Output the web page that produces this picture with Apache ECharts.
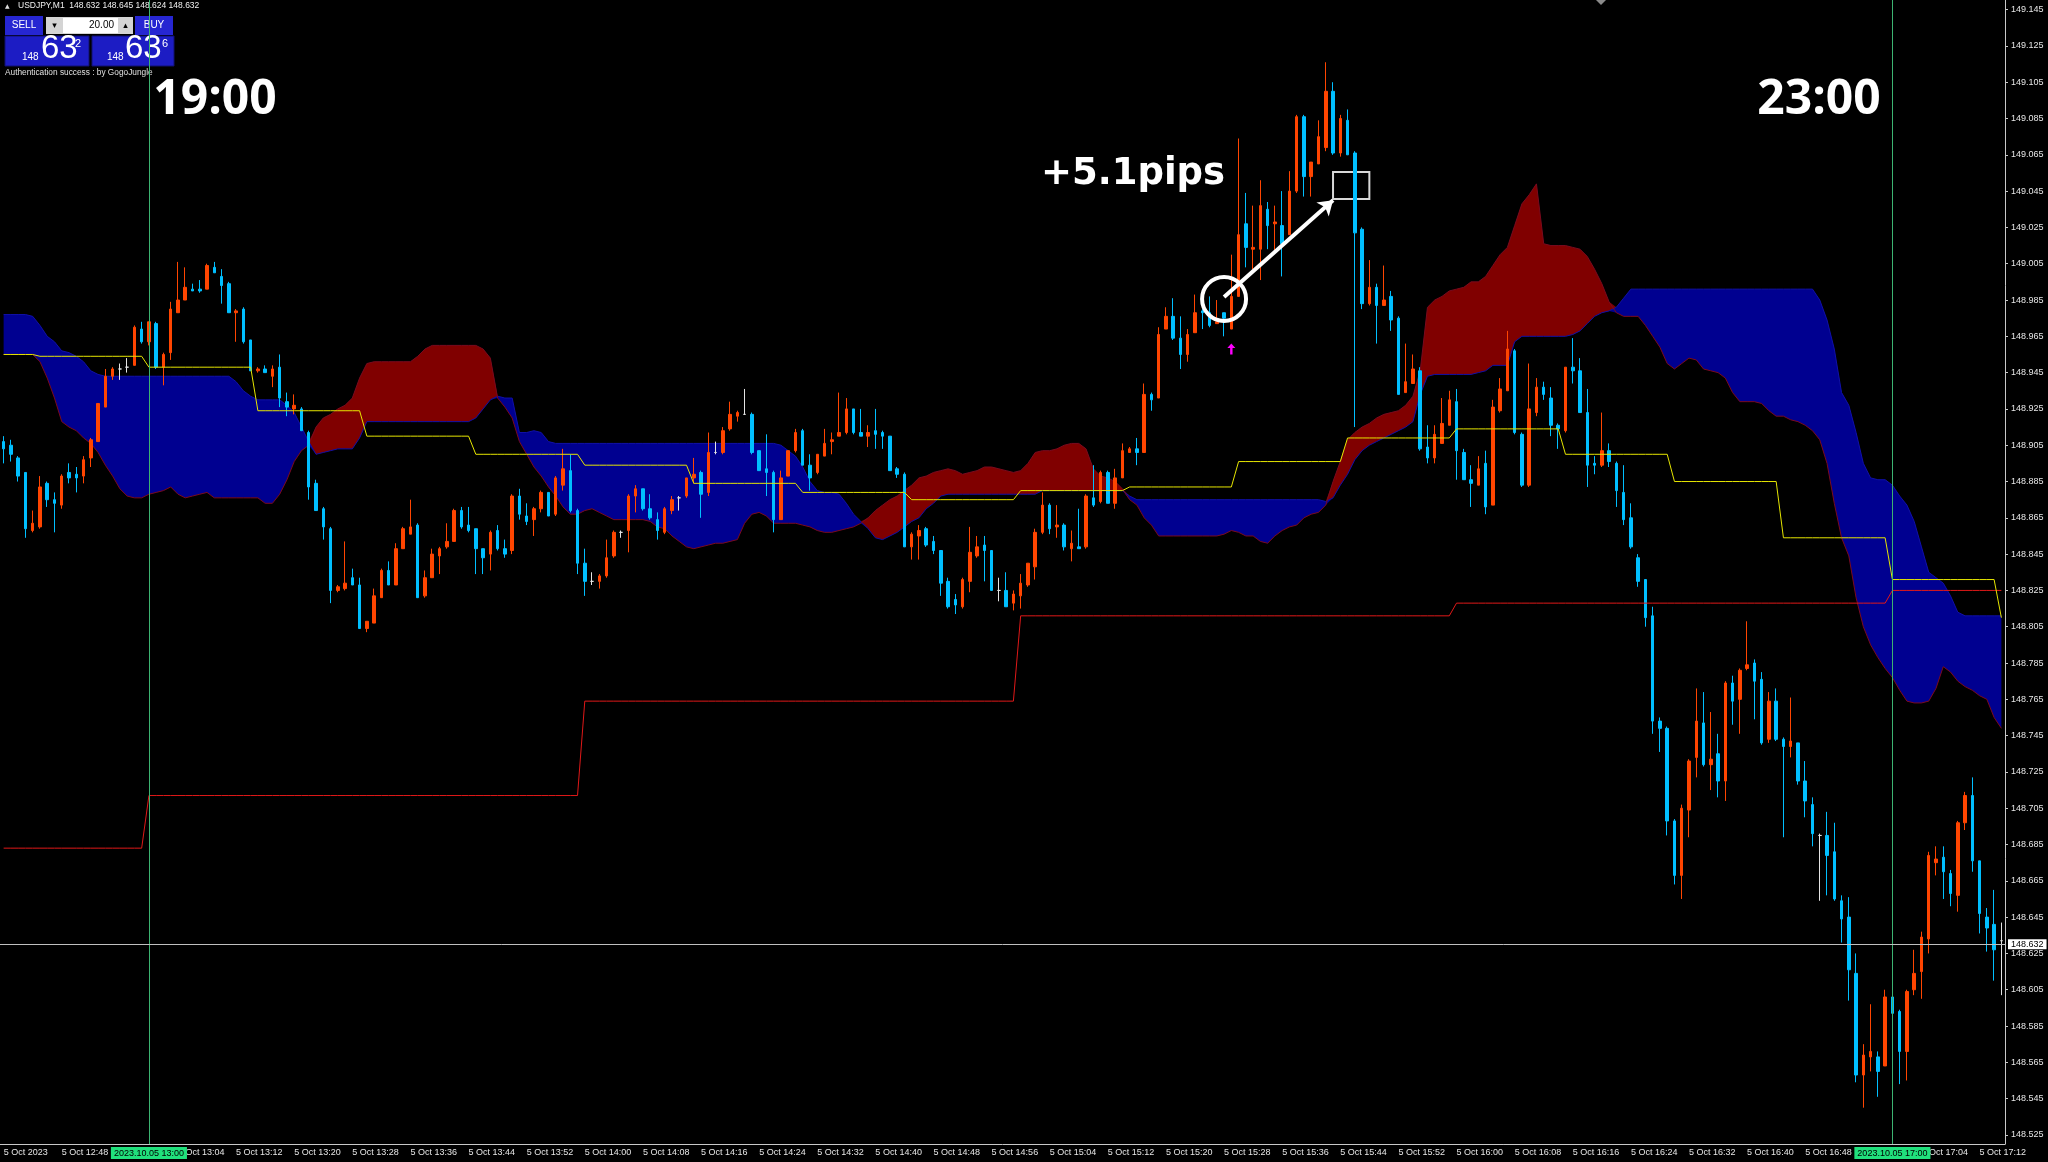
<!DOCTYPE html>
<html>
<head>
<meta charset="utf-8">
<script src="https://cdn.jsdelivr.net/npm/echarts@6/dist/echarts.min.js"></script>
<style>
  html, body { margin: 0; padding: 0; background: #000; }
  #chart { width: 2048px; height: 1162px; }
</style>
</head>
<body>
<div id="chart"></div>
<script>
// USDJPY M1, 5 Oct 2023, 12:40 .. 17:15 (server time)
const opens = [
  148.907,148.905,148.898,148.890,148.858,148.860,148.884,148.875,148.872,148.890,
  148.889,148.888,148.898,148.907,148.926,148.943,148.947,148.948,148.949,148.969,
  148.962,148.972,148.948,148.956,148.978,148.985,148.991,148.991,148.991,149.003,
  148.998,148.994,148.978,148.980,148.963,148.946,148.947,148.943,148.948,148.929,
  148.925,148.925,148.912,148.884,148.870,148.859,148.825,148.826,148.832,148.828,
  148.804,148.807,148.821,148.836,148.828,148.848,148.856,148.861,148.822,148.832,
  148.844,148.849,148.852,148.869,148.861,148.859,148.848,148.845,148.858,148.848,
  148.847,148.877,148.866,148.864,148.870,148.879,148.867,148.883,148.891,148.869,
  148.840,148.830,148.830,148.833,148.844,148.857,148.858,148.877,148.881,148.870,
  148.864,148.857,148.869,148.876,148.877,148.887,148.890,148.879,148.901,148.901,
  148.914,148.921,148.922,148.922,148.902,148.892,148.890,148.864,148.888,148.902,
  148.913,148.894,148.890,148.899,148.907,148.910,148.912,148.925,148.912,148.910,
  148.913,148.912,148.910,148.892,148.889,148.849,148.855,148.859,148.852,148.847,
  148.830,148.820,148.816,148.830,148.844,148.850,148.847,148.825,148.825,148.818,
  148.822,148.828,148.838,148.857,148.872,148.860,148.861,148.848,148.849,148.849,
  148.876,148.874,148.890,148.873,148.887,148.901,148.903,148.901,148.933,148.931,
  148.969,148.976,148.964,148.955,148.967,148.979,148.978,148.972,148.978,148.969,
  148.987,149.027,149.013,149.013,149.035,149.027,149.026,149.021,149.045,149.086,
  149.053,149.060,149.069,149.100,149.066,149.084,149.066,149.024,148.983,148.992,
  148.982,148.987,148.975,148.934,148.939,148.946,148.904,148.898,148.906,148.916,
  148.929,148.901,148.886,148.883,148.895,148.872,148.924,148.935,148.957,148.911,
  148.883,148.923,148.937,148.931,148.916,148.913,148.948,148.946,148.923,148.895,
  148.894,148.902,148.895,148.879,148.865,148.843,148.831,148.811,148.753,148.749,
  148.698,148.668,148.704,148.733,148.752,148.729,148.735,148.720,148.774,148.765,
  148.782,148.785,148.776,148.743,148.764,148.743,148.739,148.741,148.720,148.707,
  148.690,148.690,148.681,148.654,148.645,148.614,148.558,148.568,148.568,148.563,
  148.601,148.593,148.571,148.605,148.615,148.633,148.675,148.678,148.669,148.657,
  148.697,148.712,148.676,148.645,148.641,148.632
];
const highs = [
  148.910,148.908,148.899,148.890,148.869,148.888,148.885,148.879,148.889,148.895,
  148.893,148.899,148.909,148.928,148.947,148.948,148.950,148.953,148.971,148.973,
  148.973,148.973,148.956,148.984,149.006,149.003,148.994,148.996,149.005,149.006,
  149.002,148.995,148.980,148.981,148.963,148.948,148.949,148.949,148.955,148.934,
  148.933,148.926,148.913,148.886,148.871,148.860,148.828,148.852,148.837,148.832,
  148.808,148.826,148.837,148.841,148.851,148.860,148.875,148.862,148.836,148.848,
  148.849,148.862,148.870,148.871,148.871,148.859,148.848,148.858,148.861,148.853,
  148.878,148.881,148.873,148.871,148.880,148.879,148.888,148.903,148.900,148.870,
  148.848,148.835,148.834,148.853,148.858,148.858,148.878,148.883,148.881,148.878,
  148.868,148.871,148.877,148.877,148.887,148.898,148.891,148.912,148.907,148.915,
  148.929,148.924,148.936,148.923,148.902,148.911,148.891,148.891,148.902,148.914,
  148.914,148.900,148.900,148.914,148.912,148.934,148.931,148.925,148.925,148.916,
  148.925,148.913,148.910,148.893,148.890,148.857,148.861,148.860,148.855,148.847,
  148.832,148.823,148.832,148.860,148.855,148.855,148.847,148.832,148.835,148.825,
  148.834,148.840,148.859,148.879,148.873,148.872,148.862,148.858,148.870,148.878,
  148.894,148.891,148.891,148.892,148.906,148.904,148.909,148.939,148.934,148.970,
  148.981,148.986,148.976,148.969,148.988,148.980,148.987,148.985,148.978,149.010,
  149.074,149.044,149.037,149.051,149.039,149.037,149.045,149.056,149.087,149.087,
  149.061,149.084,149.116,149.105,149.087,149.090,149.067,149.025,149.007,148.994,
  149.004,148.990,148.976,148.961,148.955,148.948,148.916,148.916,148.931,148.935,
  148.936,148.903,148.894,148.899,148.902,148.930,148.942,148.968,148.958,148.912,
  148.950,148.942,148.940,148.937,148.917,148.948,148.964,148.953,148.936,148.899,
  148.923,148.906,148.896,148.894,148.873,148.845,148.831,148.816,148.755,148.750,
  148.699,148.707,148.732,148.771,148.769,148.758,148.746,148.775,148.778,148.782,
  148.808,148.787,148.780,148.769,148.771,148.744,148.766,148.741,148.731,148.711,
  148.691,148.703,148.697,148.657,148.656,148.625,148.575,148.597,148.571,148.605,
  148.604,148.594,148.605,148.627,148.637,148.681,148.684,148.684,148.671,148.698,
  148.714,148.722,148.676,148.650,148.660,148.642
];
const lows = [
  148.895,148.896,148.885,148.854,148.857,148.859,148.871,148.857,148.870,148.884,
  148.879,148.884,148.893,148.907,148.926,148.941,148.941,148.945,148.949,148.961,
  148.960,148.947,148.938,148.952,148.978,148.985,148.990,148.989,148.991,149.000,
  148.983,148.978,148.962,148.961,148.946,148.945,148.945,148.937,148.926,148.921,
  148.922,148.913,148.875,148.869,148.853,148.818,148.824,148.825,148.828,148.804,
  148.802,148.807,148.821,148.828,148.828,148.848,148.856,148.821,148.821,148.832,
  148.834,148.848,148.852,148.859,148.857,148.834,148.834,148.836,148.847,148.843,
  148.845,148.864,148.861,148.855,148.868,148.866,148.866,148.880,148.868,148.834,
  148.822,148.828,148.826,148.832,148.843,148.854,148.846,148.868,148.869,148.864,
  148.853,148.856,148.867,148.869,148.876,148.884,148.865,148.877,148.900,148.900,
  148.913,148.918,148.922,148.900,148.891,148.877,148.857,148.864,148.888,148.901,
  148.894,148.880,148.889,148.899,148.900,148.910,148.911,148.911,148.910,148.904,
  148.903,148.903,148.891,148.887,148.849,148.842,148.842,148.849,148.845,148.822,
  148.815,148.812,148.815,148.824,148.843,148.830,148.825,148.819,148.816,148.814,
  148.815,148.827,148.831,148.856,148.856,148.854,148.847,148.841,148.848,148.848,
  148.871,148.873,148.873,148.870,148.887,148.901,148.894,148.901,148.924,148.931,
  148.969,148.963,148.947,148.951,148.967,148.969,148.970,148.972,148.965,148.969,
  148.987,149.003,149.002,148.996,149.013,149.011,148.998,149.021,149.044,149.042,
  149.042,149.060,149.067,149.065,149.064,149.065,148.915,148.980,148.982,148.961,
  148.982,148.968,148.933,148.934,148.939,148.902,148.895,148.895,148.906,148.916,
  148.886,148.886,148.871,148.883,148.867,148.872,148.923,148.935,148.911,148.882,
  148.882,148.921,148.930,148.910,148.903,148.912,148.939,148.923,148.882,148.889,
  148.893,148.893,148.871,148.861,148.848,148.827,148.805,148.746,148.736,148.690,
  148.663,148.655,148.689,148.722,148.728,148.715,148.711,148.709,148.751,148.746,
  148.781,148.754,148.740,148.741,148.742,148.689,148.733,148.718,148.700,148.684,
  148.654,148.657,148.654,148.631,148.599,148.554,148.540,148.560,148.546,148.563,
  148.589,148.553,148.555,148.602,148.600,148.625,148.668,148.655,148.651,148.648,
  148.693,148.670,148.636,148.626,148.610,148.602
];
const closes = [
  148.903,148.900,148.888,148.859,148.862,148.882,148.875,148.873,148.888,148.887,
  148.887,148.897,148.908,148.928,148.943,148.947,148.947,148.948,148.970,148.962,
  148.973,148.948,148.955,148.980,148.985,148.992,148.990,148.990,149.004,149.000,
  148.993,148.978,148.979,148.962,148.946,148.947,148.945,148.947,148.931,148.926,
  148.927,148.913,148.882,148.869,148.860,148.825,148.827,148.829,148.828,148.804,
  148.808,148.822,148.836,148.828,148.848,148.859,148.860,148.821,148.832,148.845,
  148.848,148.852,148.869,148.860,148.858,148.848,148.843,148.857,148.848,148.845,
  148.877,148.867,148.863,148.870,148.879,148.866,148.887,148.892,148.869,148.840,
  148.830,148.830,148.833,148.843,148.857,148.857,148.877,148.881,148.870,148.865,
  148.858,148.870,148.875,148.876,148.887,148.889,148.878,148.901,148.901,148.913,
  148.922,148.923,148.922,148.901,148.891,148.890,148.864,148.887,148.902,148.912,
  148.894,148.887,148.900,148.906,148.908,148.912,148.925,148.912,148.910,148.912,
  148.911,148.910,148.891,148.889,148.849,148.856,148.858,148.850,148.847,148.829,
  148.816,148.817,148.831,148.846,148.849,148.847,148.825,148.825,148.816,148.823,
  148.829,148.840,148.857,148.872,148.859,148.861,148.849,148.851,148.848,148.877,
  148.872,148.890,148.873,148.887,148.902,148.903,148.901,148.933,148.930,148.966,
  148.976,148.964,148.955,148.966,148.978,148.978,148.971,148.973,148.975,148.987,
  149.021,149.014,149.014,149.037,149.026,149.028,149.016,149.045,149.086,149.053,
  149.061,149.075,149.100,149.066,149.085,149.065,149.022,148.983,148.992,148.982,
  148.985,148.974,148.933,148.940,148.947,148.903,148.898,148.911,148.917,148.930,
  148.902,148.886,148.884,148.892,148.871,148.926,148.936,148.958,148.912,148.883,
  148.925,148.937,148.933,148.916,148.914,148.948,148.946,148.923,148.894,148.894,
  148.902,148.896,148.880,148.864,148.849,148.830,148.810,148.753,148.749,148.698,
  148.668,148.705,148.731,148.753,148.729,148.732,148.720,148.774,148.764,148.781,
  148.784,148.775,148.741,148.764,148.743,148.739,148.742,148.720,148.709,148.691,
  148.690,148.679,148.655,148.644,148.616,148.558,148.569,148.571,148.560,148.601,
  148.592,148.571,148.604,148.614,148.634,148.679,148.677,148.670,148.658,148.697,
  148.712,148.676,148.647,148.639,148.627,148.632
];

// Ichimoku spans (A: navy edge, B: dark red edge)
const spanA = [
  148.977,148.977,148.977,148.977,148.976,148.971,148.965,148.962,148.957,148.956,
  148.954,148.951,148.946,148.944,148.943,148.943,148.943,148.943,148.943,148.943,
  148.943,148.943,148.943,148.943,148.943,148.943,148.943,148.943,148.943,148.943,
  148.943,148.943,148.940,148.935,148.932,148.930,148.930,148.930,148.930,148.927,
  148.923,148.915,148.907,148.900,148.901,148.902,148.903,148.903,148.903,148.909,
  148.918,148.918,148.918,148.918,148.918,148.918,148.918,148.918,148.918,148.918,
  148.918,148.918,148.918,148.918,148.918,148.920,148.925,148.930,148.932,148.931,
  148.931,148.912,148.912,148.913,148.912,148.907,148.906,148.906,148.906,148.906,
  148.906,148.906,148.906,148.906,148.906,148.906,148.906,148.906,148.906,148.906,
  148.906,148.906,148.906,148.906,148.906,148.906,148.906,148.906,148.906,148.906,
  148.906,148.906,148.906,148.906,148.906,148.906,148.906,148.905,148.902,148.899,
  148.893,148.885,148.880,148.879,148.879,148.878,148.873,148.867,148.863,148.859,
  148.854,148.853,148.855,148.857,148.860,148.863,148.865,148.870,148.873,148.877,
  148.878,148.878,148.878,148.878,148.878,148.878,148.878,148.878,148.878,148.878,
  148.878,148.878,148.878,148.880,148.880,148.880,148.880,148.880,148.880,148.880,
  148.880,148.880,148.880,148.880,148.880,148.877,148.875,148.875,148.875,148.875,
  148.875,148.875,148.875,148.875,148.875,148.875,148.875,148.875,148.875,148.875,
  148.875,148.875,148.875,148.875,148.875,148.875,148.875,148.875,148.875,148.875,
  148.875,148.875,148.874,148.876,148.883,148.889,148.897,148.902,148.905,148.907,
  148.909,148.911,148.913,148.915,148.918,148.933,148.943,148.944,148.944,148.944,
  148.944,148.944,148.944,148.945,148.946,148.949,148.949,148.949,148.962,148.965,
  148.965,148.965,148.965,148.965,148.965,148.965,148.966,148.968,148.972,148.976,
  148.978,148.979,148.981,148.986,148.991,148.991,148.991,148.991,148.991,148.991,
  148.991,148.991,148.991,148.991,148.991,148.991,148.991,148.991,148.991,148.991,
  148.991,148.991,148.991,148.991,148.991,148.991,148.991,148.991,148.991,148.991,
  148.985,148.974,148.958,148.934,148.927,148.912,148.895,148.887,148.886,148.886,
  148.883,148.877,148.872,148.863,148.849,148.835,148.832,148.829,148.822,148.813,
  148.811,148.811,148.811,148.811,148.811,148.811
];
const spanB = [
  148.955,148.955,148.955,148.955,148.955,148.951,148.942,148.931,148.918,148.915,
  148.913,148.909,148.906,148.901,148.894,148.888,148.881,148.877,148.876,148.876,
  148.878,148.879,148.880,148.882,148.878,148.876,148.877,148.878,148.879,148.876,
  148.876,148.876,148.876,148.876,148.876,148.876,148.873,148.873,148.878,148.886,
  148.896,148.902,148.905,148.915,148.920,148.922,148.925,148.927,148.931,148.942,
  148.950,148.951,148.951,148.951,148.951,148.951,148.951,148.954,148.958,148.960,
  148.960,148.960,148.960,148.960,148.960,148.960,148.958,148.953,148.931,148.926,
  148.920,148.907,148.900,148.893,148.888,148.882,148.877,148.871,148.867,148.867,
  148.869,148.870,148.868,148.866,148.864,148.864,148.864,148.864,148.864,148.863,
  148.860,148.859,148.855,148.852,148.849,148.848,148.849,148.850,148.851,148.851,
  148.852,148.853,148.862,148.867,148.868,148.866,148.862,148.862,148.862,148.862,
  148.861,148.860,148.858,148.857,148.857,148.858,148.859,148.860,148.862,148.865,
  148.869,148.872,148.875,148.877,148.880,148.883,148.887,148.888,148.890,148.891,
  148.892,148.891,148.889,148.890,148.891,148.893,148.893,148.892,148.891,148.890,
  148.891,148.895,148.901,148.902,148.902,148.903,148.905,148.906,148.906,148.903,
  148.892,148.888,148.887,148.885,148.881,148.875,148.872,148.865,148.861,148.855,
  148.855,148.855,148.855,148.855,148.855,148.855,148.855,148.855,148.856,148.858,
  148.857,148.855,148.855,148.852,148.851,148.855,148.858,148.860,148.861,148.865,
  148.867,148.868,148.872,148.885,148.896,148.908,148.912,148.915,148.917,148.920,
  148.922,148.923,148.924,148.927,148.932,148.946,148.981,148.985,148.987,148.990,
  148.991,148.992,148.995,148.995,148.998,149.004,149.010,149.014,149.026,149.038,
  149.043,149.049,149.016,149.015,149.015,149.015,149.014,149.013,149.009,149.002,
  148.994,148.984,148.978,148.976,148.976,148.976,148.971,148.965,148.959,148.950,
  148.947,148.950,148.953,148.952,148.947,148.946,148.945,148.942,148.934,148.929,
  148.929,148.929,148.928,148.924,148.921,148.921,148.919,148.918,148.916,148.913,
  148.908,148.895,148.873,148.854,148.844,148.821,148.805,148.795,148.788,148.782,
  148.777,148.770,148.764,148.763,148.763,148.764,148.771,148.783,148.780,148.775,
  148.772,148.770,148.767,148.765,148.755,148.749
];

// stepped higher-timeframe lines: [first bar index, level]
const yellowSteps = [
  [0,148.955],[5,148.954],[20,148.948],[35,148.924],[50,148.910],[65,148.900],
  [80,148.894],[95,148.884],[110,148.879],[125,148.875],[140,148.880],[155,148.882],
  [170,148.896],[185,148.909],[200,148.914],[215,148.900],[230,148.885],[245,148.854],
  [260,148.831],[275,148.810]
];
const redSteps = [
  [0,148.683],[20,148.712],[80,148.764],[140,148.811],[200,148.818],[260,148.825]
];

const priceTicks = [
  148.525,148.545,148.565,148.585,148.605,148.625,148.645,148.665,148.685,148.705,
  148.725,148.745,148.765,148.785,148.805,148.825,148.845,148.865,148.885,148.905,
  148.925,148.945,148.965,148.985,149.005,149.025,149.045,149.065,149.085,149.105,
  149.125,149.145
];
const lastPrice = 148.632;

const pad = n => (n < 10 ? '0' : '') + n;
const times = opens.map((_, i) => {
  const m = 12 * 60 + 40 + i;
  return pad(Math.floor(m / 60)) + ':' + pad(m % 60);
});

const ohlc = opens.map((o, i) => [o, closes[i], lows[i], highs[i]]);
const holdSteps = steps => times.map((_, i) => {
  let v = steps[0][1];
  steps.forEach(s => { if (s[0] <= i) v = s[1]; });
  return v;
});
const yellowLine = holdSteps(yellowSteps);
const redLine = holdSteps(redSteps);

const kumoBase = spanA.map((a, i) => Math.min(a, spanB[i]));
const kumoBlue = spanA.map((a, i) => +(Math.max(a - spanB[i], 0)).toFixed(4));
const kumoRed = spanA.map((a, i) => +(Math.max(spanB[i] - a, 0)).toFixed(4));

const chart = echarts.init(document.getElementById('chart'));
const every8 = i => i % 8 === 0;
const FONT = 'Liberation Sans';

const panelBlue = '#2626d2';
const option = {
  backgroundColor: '#000',
  animation: false,
  grid: { left: 0, right: 43, top: 0, bottom: 18 },
  xAxis: {
    type: 'category',
    data: times,
    boundaryGap: true,
    axisLine: { lineStyle: { color: '#c8c8c8', width: 1 } },
    axisTick: { interval: every8, alignWithLabel: true, length: 3, lineStyle: { color: '#c8c8c8' } },
    axisLabel: {
      interval: every8,
      formatter: (v, i) => (i === 0 ? '5 Oct 2023' : '5 Oct ' + v),
      align: 'left', margin: 4, color: '#e6e6e6', fontSize: 9, fontFamily: FONT
    },
    splitLine: { show: false }
  },
  yAxis: {
    type: 'value',
    position: 'right',
    min: 148.520,
    max: 149.1503,
    axisLine: { show: true, lineStyle: { color: '#c8c8c8' } },
    axisTick: { show: true, customValues: priceTicks, length: 3, lineStyle: { color: '#c8c8c8' } },
    axisLabel: {
      customValues: priceTicks,
      formatter: v => v.toFixed(3),
      color: '#e6e6e6', fontSize: 9, fontFamily: FONT, margin: 6
    },
    splitLine: { show: false }
  },
  series: [
    {
      name: 'kumoBase', type: 'line', stack: 'kumo', data: kumoBase, symbol: 'none',
      lineStyle: { width: 0, opacity: 0 }, silent: true, z: 1
    },
    {
      name: 'kumoBlue', type: 'line', stack: 'kumo', data: kumoBlue, symbol: 'none',
      lineStyle: { width: 0, opacity: 0 }, areaStyle: { color: '#000090', opacity: 1 }, silent: true, z: 1
    },
    {
      name: 'kumoRed', type: 'line', stack: 'kumo', data: kumoRed, symbol: 'none',
      lineStyle: { width: 0, opacity: 0 }, areaStyle: { color: '#800000', opacity: 1 }, silent: true, z: 1
    },
    {
      name: 'spanA', type: 'line', data: spanA, symbol: 'none',
      lineStyle: { color: '#1010a8', width: 1 }, silent: true, z: 1
    },
    {
      name: 'spanB', type: 'line', data: spanB, symbol: 'none',
      lineStyle: { color: '#7a0a1e', width: 1 }, silent: true, z: 1
    },
    {
      name: 'USDJPY', type: 'candlestick', data: ohlc, barWidth: 3, z: 3,
      itemStyle: {
        color: '#FF4500', color0: '#00BFFF',
        borderColor: '#FF4500', borderColor0: '#00BFFF',
        borderColorDoji: '#e4e4e4', borderWidth: 1
      }
    },
    {
      name: 'h1', type: 'line', data: redLine, symbol: 'none',
      lineStyle: { color: '#e01818', width: 1 }, silent: true, z: 4
    },
    {
      name: 'm15', type: 'line', data: yellowLine, symbol: 'none',
      lineStyle: { color: '#e6e600', width: 1 }, silent: true, z: 4
    },
    {
      // vertical session lines and the bid line
      name: 'markers', type: 'line', data: [], symbol: 'none', z: 6,
      markLine: {
        silent: true, symbol: ['none', 'none'], animation: false,
        data: [
          {
            xAxis: '13:00',
            lineStyle: { color: '#3cb371', width: 1, type: 'solid' },
            label: {
              position: 'start', formatter: '2023.10.05 13:00', color: '#000',
              backgroundColor: '#20e07c', padding: [2, 3, 1, 3], fontSize: 9, fontFamily: FONT, distance: 3
            }
          },
          {
            xAxis: '17:00',
            lineStyle: { color: '#3cb371', width: 1, type: 'solid' },
            label: {
              position: 'start', formatter: '2023.10.05 17:00', color: '#000',
              backgroundColor: '#20e07c', padding: [2, 3, 1, 3], fontSize: 9, fontFamily: FONT, distance: 3
            }
          },
          {
            yAxis: lastPrice,
            lineStyle: { color: '#bfbfbf', width: 1, type: 'solid' },
            label: {
              position: 'end', formatter: lastPrice.toFixed(3), color: '#000',
              backgroundColor: '#fff', padding: [1, 3, 0, 3], fontSize: 9, fontFamily: FONT, distance: 3
            }
          }
        ]
      }
    },
    {
      // trade annotation: entry circle, arrow, exit box, signal arrow
      name: 'trade', type: 'line', data: [], symbol: 'none', z: 7,
      markLine: {
        silent: true, symbol: ['none', 'arrow'], symbolSize: 14, animation: false,
        lineStyle: { color: '#fff', width: 4, type: 'solid' },
        label: { show: false },
        data: [[{ coord: ['15:28', 148.9867] }, { coord: ['15:43', 149.0400] }]]
      },
      markPoint: {
        silent: true, animation: false, label: { show: false },
        data: [
          {
            coord: ['15:28', 148.9856], symbol: 'circle', symbolSize: 44,
            itemStyle: { color: 'rgba(0,0,0,0)', borderColor: '#fff', borderWidth: 4 }
          },
          {
            coord: ['15:29', 148.958], symbol: 'path://M5,0 L10,5 L6.5,5 L6.5,12 L3.5,12 L3.5,5 L0,5 Z',
            symbolSize: [8, 11], itemStyle: { color: '#ff00ff' }
          }
        ]
      },
      markArea: {
        silent: true, animation: false,
        itemStyle: { color: 'rgba(0,0,0,0)', borderColor: '#d8d8d8', borderWidth: 2 },
        data: [[{ coord: ['15:43', 149.0556] }, { coord: ['15:48', 149.0407] }]]
      }
    }
  ],
  graphic: [
    // symbol header
    { type: 'text', style: { text: '▲', x: 5, y: 6, fill: '#ddd', font: '6px "DejaVu Sans"', textVerticalAlign: 'middle' } },
    { type: 'text', style: { text: 'USDJPY,M1  148.632 148.645 148.624 148.632', x: 18, y: 6, fill: '#f0f0f0', font: '8.5px "Liberation Sans"', textVerticalAlign: 'middle' } },
    // one-click trading panel
    { type: 'rect', shape: { x: 5, y: 16, width: 38, height: 19 }, style: { fill: panelBlue } },
    { type: 'text', style: { text: 'SELL', x: 24, y: 25.5, fill: '#fff', font: '10px "Liberation Sans"', textAlign: 'center', textVerticalAlign: 'middle' } },
    { type: 'rect', shape: { x: 46, y: 17, width: 87, height: 17 }, style: { fill: '#d4d4d4' } },
    { type: 'rect', shape: { x: 63, y: 18, width: 55, height: 15 }, style: { fill: '#fff' } },
    { type: 'text', style: { text: '▾', x: 54.5, y: 25.5, fill: '#000', font: '9px "DejaVu Sans"', textAlign: 'center', textVerticalAlign: 'middle' } },
    { type: 'text', style: { text: '▴', x: 125.5, y: 25.5, fill: '#000', font: '9px "DejaVu Sans"', textAlign: 'center', textVerticalAlign: 'middle' } },
    { type: 'text', style: { text: '20.00', x: 114, y: 25.5, fill: '#000', font: '10px "Liberation Sans"', textAlign: 'right', textVerticalAlign: 'middle' } },
    { type: 'rect', shape: { x: 135, y: 16, width: 38, height: 19 }, style: { fill: panelBlue } },
    { type: 'text', style: { text: 'BUY', x: 154, y: 25.5, fill: '#fff', font: '10px "Liberation Sans"', textAlign: 'center', textVerticalAlign: 'middle' } },
    { type: 'rect', shape: { x: 5, y: 36, width: 84, height: 30 }, style: { fill: '#1c1cc4', stroke: '#101070', lineWidth: 1 } },
    { type: 'rect', shape: { x: 92, y: 36, width: 82, height: 30 }, style: { fill: '#1c1cc4', stroke: '#101070', lineWidth: 1 } },
    { type: 'text', style: { text: '148', x: 22, y: 62, fill: '#fff', font: '10px "Liberation Sans"', textVerticalAlign: 'bottom' } },
    { type: 'text', style: { text: '63', x: 41, y: 65, fill: '#fff', font: '33px "Liberation Sans"', textVerticalAlign: 'bottom' } },
    { type: 'text', style: { text: '2', x: 75, y: 44, fill: '#fff', font: '11px "Liberation Sans"', textVerticalAlign: 'middle' } },
    { type: 'text', style: { text: '148', x: 107, y: 62, fill: '#fff', font: '10px "Liberation Sans"', textVerticalAlign: 'bottom' } },
    { type: 'text', style: { text: '63', x: 125, y: 65, fill: '#fff', font: '33px "Liberation Sans"', textVerticalAlign: 'bottom' } },
    { type: 'text', style: { text: '6', x: 162, y: 44, fill: '#fff', font: '11px "Liberation Sans"', textVerticalAlign: 'middle' } },
    { type: 'text', style: { text: 'Authentication success : by GogoJungle', x: 5, y: 73, fill: '#e0e0e0', font: '8.3px "Liberation Sans"', textVerticalAlign: 'middle' } },
    // scroll marker at the top edge
    { type: 'polygon', shape: { points: [[1596, 0], [1606, 0], [1601, 5]] }, style: { fill: '#8a8a8a' } },
    // session annotations
    { type: 'text', z: 100, style: { text: '19:00', x: 215, y: 100, fill: '#fff', font: 'bold 48px "Open Sans"', textAlign: 'center', textVerticalAlign: 'middle' } },
    { type: 'text', z: 100, style: { text: '23:00', x: 1819, y: 100, fill: '#fff', font: 'bold 48px "Open Sans"', textAlign: 'center', textVerticalAlign: 'middle' } },
    { type: 'text', z: 100, style: { text: '+5.1pips', x: 1133, y: 174, fill: '#fff', font: 'bold 37px "DejaVu Sans"', textAlign: 'center', textVerticalAlign: 'middle' } }
  ]
};

chart.setOption(option);
window.addEventListener('resize', () => chart.resize());
</script>
</body>
</html>
